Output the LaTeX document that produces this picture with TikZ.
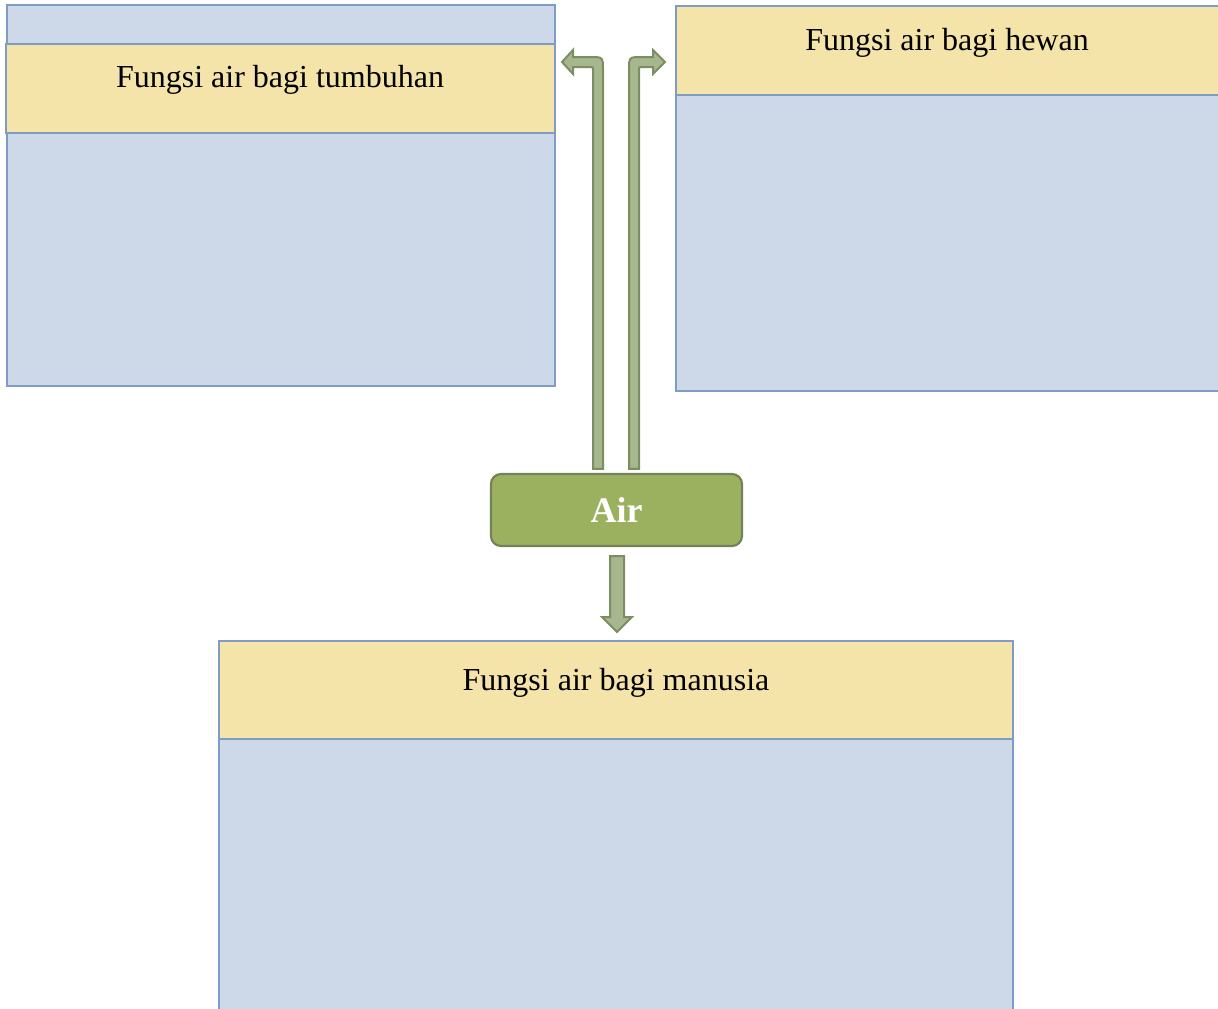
\documentclass[tikz,border=0pt]{standalone}
\usepackage{fontspec}
\setmainfont{Liberation Serif}
\definecolor{boxblue}{HTML}{CDD8E8}
\definecolor{boxline}{HTML}{7F9CC4}
\definecolor{headyellow}{HTML}{F4E4AA}
\definecolor{airgreen}{HTML}{9BB160}
\definecolor{airline}{HTML}{748259}
\definecolor{arrowfill}{HTML}{A7B78D}
\definecolor{arrowline}{HTML}{7D8D63}
\tikzset{
	body/.style={fill=boxblue, draw=boxline, line width=1.3pt},
	header/.style={fill=headyellow, draw=boxline, line width=1.3pt},
	label/.style={font=\fontsize{16}{19}\selectfont, inner sep=0pt},
	airbox/.style={fill=airgreen, draw=airline, line width=1.1pt, rounded corners=5pt,
		minimum width=125.5pt, minimum height=36pt, text=white,
		font=\fontsize{18}{21}\selectfont\bfseries},
	flowarrow/.style={fill=arrowfill, draw=arrowline, line width=1pt, line join=miter}
}
\begin{document}
\begin{tikzpicture}[x=0.5pt,y=-0.5pt]
	\useasboundingbox (0,0) rectangle (1218,1008);
	\draw [body] (7,5) rectangle (555,386);
	\draw [header] (6,44) rectangle (555,133);
	\node [label] (tumbuhan) at (280,79.5) {Fungsi air bagi tumbuhan};
	\draw [body] (676,95) rectangle (1226,391);
	\draw [header] (676,6) rectangle (1226,95);
	\node [label] (hewan) at (947,42.5) {Fungsi air bagi hewan};
	\draw [body] (219,739) rectangle (1013,1016);
	\draw [header] (219,641) rectangle (1013,739);
	\node [label] (manusia) at (616,682.5) {Fungsi air bagi manusia};
	\node [airbox] (air) at (616.5,510) {Air};
	\coordinate (uptop) at ([yshift=2pt]air.north);
	\coordinate (downtop) at ([yshift=-4.5pt]air.south);
	\draw [flowarrow] (593,0 |- uptop) -- (593,70) .. controls (593,67) .. (590,67) -- (573,67) -- (573,74) -- (562,62) -- (573,50) -- (573,57) -- (590,57) .. controls (603,57) .. (603,70) -- (603,0 |- uptop) -- cycle;
	\draw [flowarrow] (639,0 |- uptop) -- (639,70) .. controls (639,67) .. (642,67) -- (653,67) -- (653,74) -- (665,62) -- (653,50) -- (653,57) -- (642,57) .. controls (629,57) .. (629,70) -- (629,0 |- uptop) -- cycle;
	\draw [flowarrow] (610,0 |- downtop) -- (624,0 |- downtop) -- (624,617) -- (632,617) -- (617,632) -- (602,617) -- (610,617) -- cycle;
\end{tikzpicture}
\end{document}
